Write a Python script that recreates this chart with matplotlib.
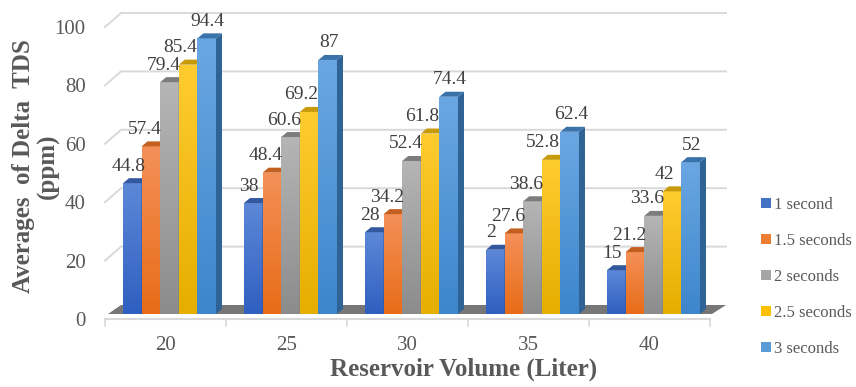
import numpy as np
import matplotlib
matplotlib.use("Agg")
import matplotlib.pyplot as plt
from matplotlib.patches import Polygon, Patch
from matplotlib.colors import to_rgb

# ---------------- data ----------------
volumes = ["20", "25", "30", "35", "40"]
series_names = ["1 second", "1.5 seconds", "2 seconds", "2.5 seconds", "3 seconds"]
sec_1 = [44.8, 38, 28, 22, 15]
sec_1_5 = [57.4, 48.4, 34.2, 27.6, 21.2]
sec_2 = [79.4, 60.6, 52.4, 38.6, 33.6]
sec_2_5 = [85.4, 69.2, 61.8, 52.8, 42]
sec_3 = [94.4, 87, 74.4, 62.4, 52]
sec_1_labels = ["44.8", "38", "28", "2", "15"]   # labels as printed on the chart
y_ticks = [0, 20, 40, 60, 80, 100]

series_values = [sec_1, sec_1_5, sec_2, sec_2_5, sec_3]
series_labels = [sec_1_labels] + [[f"{v:g}" for v in s] for s in series_values[1:]]

# ---------------- style ----------------
plt.rcParams['font.family'] = ['Liberation Serif', 'DejaVu Serif']
legend_col = ["#4472c4", "#ed7d31", "#a5a5a5", "#ffc000", "#5b9bd5"]
front_top = ["#5d88d8", "#f49058", "#b5b5b5", "#ffcc30", "#6aa7e2"]
front_bot = ["#2f5fc0", "#e86c18", "#8c8c8c", "#e6ae00", "#3d86cc"]
side_col = ["#2a4f94", "#b8561a", "#707070", "#b58a00", "#2f6396"]
top_col = ["#34589e", "#c4601f", "#7c7c7c", "#c79a0a", "#3a72aa"]
label_dx_px = [-4, -6, -6, -8, 1]
grid_col = "#d9d9d9"
text_col = "#595959"

PX_X = 121.0      # pixels per category
PX_Y = 2.92       # pixels per value unit
bdx, bdy = 6 / PX_X, 5 / PX_Y       # bar plane offset (depth)
sdx, sdy = 6 / PX_X, 5 / PX_Y       # bar side/top depth
gdx, gdy = 16 / PX_X, 14 / PX_Y     # back wall offset
w = 18.6 / PX_X
c0 = 0.033

fig = plt.figure(figsize=(8.56, 3.87), dpi=100)
ax = fig.add_axes([105 / 856, 68 / 387, 605 / 856, 292 / 387])

# back wall gridlines
for v in y_ticks[1:]:
    ax.plot([-0.5, -0.5 + gdx, 4.5 + gdx], [v, v + gdy, v + gdy],
            color=grid_col, lw=1.4, clip_on=False, zorder=1)

# floor
floor = Polygon([(-0.5 + 3 / PX_X, bdy), (4.5 + 2 / PX_X, bdy),
                 (4.5 + gdx, gdy), (-0.5 + gdx, gdy)],
                closed=True, facecolor="#767676", edgecolor="none",
                zorder=2, clip_on=False)
ax.add_patch(floor)

n = 64
for j, vals in enumerate(series_values):
    xs = np.arange(len(volumes)) + c0 + (j - 2.5) * w
    zb = 10 + 3 * j
    bars = ax.bar(xs, vals, width=w, bottom=bdy, align='edge',
                  color=front_bot[j], edgecolor='none', zorder=zb)
    t = np.array(to_rgb(front_top[j]))
    b = np.array(to_rgb(front_bot[j]))
    grad = (t[None, :] * (1 - np.linspace(0, 1, n))[:, None] +
            b[None, :] * np.linspace(0, 1, n)[:, None])[:, None, :]
    for x0, v, rect, lab in zip(xs, vals, bars.patches, series_labels[j]):
        x1 = x0 + w
        y0, y1 = bdy, bdy + v
        im = ax.imshow(grad, extent=[x0, x1, y0, y1], aspect='auto',
                       origin='upper', zorder=zb + 0.1, interpolation='bilinear')
        im.set_clip_path(rect)
        side = Polygon([(x1, y0), (x1 + sdx, y0 + sdy), (x1 + sdx, y1 + sdy), (x1, y1)],
                       closed=True, facecolor=side_col[j], edgecolor='none',
                       zorder=zb + 0.2, clip_on=False)
        top = Polygon([(x0, y1), (x1, y1), (x1 + sdx, y1 + sdy), (x0 + sdx, y1 + sdy)],
                      closed=True, facecolor=top_col[j], edgecolor='none',
                      zorder=zb + 0.2, clip_on=False)
        ax.add_patch(side)
        ax.add_patch(top)
        ax.text(x0 + w / 2 + label_dx_px[j] / PX_X, y1 + 17 / PX_Y, lab,
                ha='center', va='center', fontsize=14, color="#404040",
                zorder=100, clip_on=False)

ax.set_xlim(-0.5, 4.5)
ax.set_ylim(0, 100)

for s in ['top', 'right', 'left']:
    ax.spines[s].set_visible(False)
ax.spines['bottom'].set_color(grid_col)
ax.spines['bottom'].set_linewidth(1.5)
ax.spines['bottom'].set_zorder(3)

ax.set_xticks(range(len(volumes)), volumes)
ax.set_xticks(np.arange(-0.5, len(volumes), 1.0), minor=True)
ax.tick_params(axis='x', which='major', length=0, pad=12, labelsize=15, labelcolor=text_col)
ax.tick_params(axis='x', which='minor', length=5.5, width=1.2, color=grid_col, direction='out')
ax.set_yticks(y_ticks, [str(v) for v in y_ticks])
ax.tick_params(axis='y', length=0, pad=14, labelsize=15, labelcolor=text_col)
ax.patch.set_alpha(0)

fig.text(36 / 856, 1 - 166 / 387, "Averages  of Delta  TDS\n(ppm)", rotation=90,
         ha='center', va='center', multialignment='center', fontsize=18,
         fontweight='bold', color=text_col, linespacing=1.05)
fig.text(464 / 856, 1 - 369 / 387, "Reservoir Volume (Liter)", ha='center', va='center',
         fontsize=18, fontweight='bold', color=text_col)

handles = [Patch(facecolor=c, edgecolor='none') for c in legend_col]
fig.legend(handles, series_names, loc='upper left', bbox_to_anchor=(761 / 856, 1 - 197 / 387),
           frameon=False, fontsize=12, handlelength=0.6, handleheight=0.6,
           handletextpad=0.2, labelspacing=1.2, borderpad=0, borderaxespad=0,
           labelcolor=text_col)

fig.savefig("out.png", dpi=100)
